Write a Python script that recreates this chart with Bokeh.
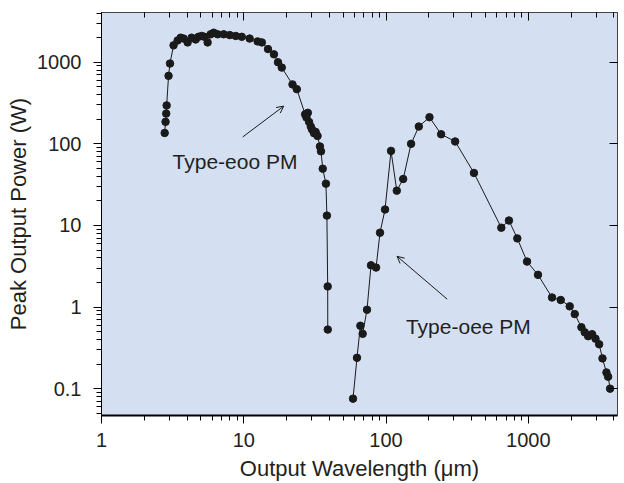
from bokeh.plotting import figure
from bokeh.models import (ColumnDataSource, LogAxis, FixedTicker, CustomJSTickFormatter,
                          Arrow, OpenHead, Label)
from bokeh.embed import file_html
from bokeh.resources import INLINE

# ---- data ----
eoo_wavelength = [2.78, 2.82, 2.85, 2.87, 2.96, 3.03, 3.21, 3.43, 3.6, 3.78, 4.03, 4.3, 4.59,
                  4.8, 5.06, 5.3, 5.57, 5.85, 6.15, 6.56, 7.23, 7.97, 8.78, 9.68, 11.0, 12.5,
                  13.4, 14.8, 16.3, 17.4, 18.5, 22.0, 23.6, 27.0, 27.6, 28.2, 28.8, 29.6,
                  30.2, 31.2, 32.0, 33.0, 34.3, 34.9, 35.9, 37.8, 38.4, 38.9, 38.95]
eoo_power = [136, 186, 235, 296, 681, 964, 1610, 1850, 2000, 1950, 1750, 2000, 1900,
             2050, 2100, 2050, 1750, 2200, 2300, 2200, 2200, 2150, 2100, 2050, 1950, 1800,
             1750, 1450, 1250, 1000, 860, 535, 468, 230, 210, 240, 185, 163,
             150, 135, 140, 125, 93, 81, 49.6, 32.5, 13.2, 1.79, 0.53]

oee_wavelength = [58.6, 62.5, 66.0, 68.5, 73.5, 78.4, 85.1, 90.7, 98.4, 108.4, 119, 132,
                  150, 170, 202, 244, 306, 415, 646, 731, 837, 980, 1170, 1468, 1690,
                  1955, 2120, 2362, 2493, 2633, 2808, 2967, 3148, 3322, 3542, 3640, 3757]
oee_power = [0.0755, 0.239, 0.59, 0.47, 0.927, 3.25, 3.05, 8.15, 15.7, 82, 26.7, 37.1,
             100, 163, 212, 131, 107, 44, 9.38, 11.5, 6.94, 3.61, 2.48, 1.31, 1.22,
             1.02, 0.82, 0.565, 0.49, 0.44, 0.465, 0.41, 0.35, 0.235, 0.158, 0.14, 0.10]

x_ticks = [1, 10, 100, 1000]
y_ticks = [0.1, 1, 10, 100, 1000]

eoo_label = "Type-eoo PM"
oee_label = "Type-oee PM"
eoo_arrow = dict(x_start=9.84, y_start=121.6, x_end=19.1, y_end=290)
oee_arrow = dict(x_start=269, y_start=1.25, x_end=119.5, y_end=4.19)
eoo_text_pos = (3.16, 60.3)
oee_text_pos = (138, 0.57)

FONT = "Liberation Sans"
TXT = "#231f20"
BG = "#d4e0f1"

p = figure(width=620, height=483, x_axis_type="log", y_axis_type="log",
           x_range=(1, 4236), y_range=(0.0469, 4070),
           min_border_left=101, min_border_right=0, min_border_top=12, min_border_bottom=68,
           output_backend="svg", toolbar_location=None,
           background_fill_color=BG, border_fill_color="white")
p.grid.visible = False
p.outline_line_color = "#444444"
p.outline_line_width = 1

x_minor = [m * 10 ** e for e in range(0, 4) for m in range(2, 10)]
y_minor = [m * 10 ** e for e in range(-2, 4) for m in range(2, 10)]
xt = FixedTicker(ticks=x_ticks, minor_ticks=x_minor)
yt = FixedTicker(ticks=y_ticks, minor_ticks=y_minor)
fmt = CustomJSTickFormatter(code="return String(tick);")
blank = CustomJSTickFormatter(code="return ' ';")

# main axes
for ax in (p.xaxis[0], p.yaxis[0]):
    ax.ticker = xt if ax is p.xaxis[0] else yt
    ax.formatter = fmt
    ax.major_label_text_font = FONT
    ax.major_label_text_font_size = "20px"
    ax.major_label_text_color = TXT
    ax.axis_label_text_font = FONT
    ax.axis_label_text_font_size = "22px"
    ax.axis_label_text_font_style = "normal"
    ax.axis_label_text_color = TXT
    ax.axis_line_color = "black"
    ax.major_tick_line_color = "black"
    ax.minor_tick_line_color = "black"
    ax.major_tick_in = 0
    ax.minor_tick_in = 0
    ax.major_tick_out = 8
    ax.minor_tick_out = 5

p.xaxis.axis_label = "Output Wavelength (\u03bcm)"
p.yaxis.axis_label = "Peak Output Power (W)"
p.xaxis.axis_line_width = 2
p.xaxis.major_label_standoff = 9
p.xaxis.axis_label_standoff = 6
p.yaxis.major_label_standoff = 12
p.yaxis.axis_label_standoff = 3

# mirrored axes with inward ticks
top = LogAxis(ticker=xt, formatter=blank, major_label_text_font_size="1px",
              major_label_standoff=0,
              major_tick_in=8, major_tick_out=0, minor_tick_in=5, minor_tick_out=0,
              axis_line_color="#444444")
right = LogAxis(ticker=yt, formatter=blank, major_label_text_font_size="1px",
                major_label_standoff=0,
                major_tick_in=8, major_tick_out=0, minor_tick_in=0, minor_tick_out=0,
                axis_line_color="#444444")
p.add_layout(top, "above")
p.add_layout(right, "right")

eoo = ColumnDataSource(dict(x=eoo_wavelength, y=eoo_power))
oee = ColumnDataSource(dict(x=oee_wavelength, y=oee_power))
for src in (eoo, oee):
    p.line("x", "y", source=src, line_color="#1a1a1a", line_width=1)
    p.scatter("x", "y", source=src, size=7.5, fill_color="#1a1a1a", line_color="#1a1a1a")

p.add_layout(Arrow(end=OpenHead(size=7, line_width=1, line_color="#1a1a1a"),
                   line_color="#1a1a1a", line_width=1, **eoo_arrow))
p.add_layout(Arrow(end=OpenHead(size=7, line_width=1, line_color="#1a1a1a"),
                   line_color="#1a1a1a", line_width=1, **oee_arrow))
p.add_layout(Label(x=eoo_text_pos[0], y=eoo_text_pos[1], text=eoo_label,
                   text_font=FONT, text_font_size="21px", text_color=TXT,
                   text_baseline="middle", text_align="left"))
p.add_layout(Label(x=oee_text_pos[0], y=oee_text_pos[1], text=oee_label,
                   text_font=FONT, text_font_size="21px", text_color=TXT,
                   text_baseline="middle", text_align="left"))

open("out.html", "w").write(file_html(p, INLINE))
